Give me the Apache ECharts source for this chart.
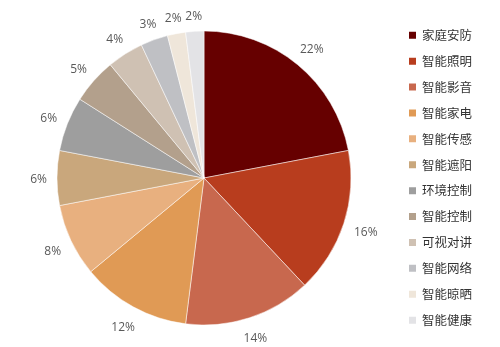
<!DOCTYPE html>
<html>
<head>
<meta charset="utf-8">
<script src="https://cdn.jsdelivr.net/npm/echarts@6/dist/echarts.min.js"></script>
<style>
  html, body { margin: 0; padding: 0; background: #fff; }
  #main { width: 500px; height: 347px; }
</style>
</head>
<body>
<div id="main"></div>
<script>
// 分类与占比
var categories = ['家庭安防', '智能照明', '智能影音', '智能家电', '智能传感', '智能遮阳',
                  '环境控制', '智能控制', '可视对讲', '智能网络', '智能晾晒', '智能健康'];
var shares = [22, 16, 14, 12, 8, 6, 6, 5, 4, 3, 2, 2];
var colors = ['#660000', '#b83d1e', '#c8684e', '#e09a55', '#e8b07f', '#c9a77c',
              '#9e9e9e', '#b3a08c', '#cfc1b3', '#bfc0c4', '#efe6da', '#e3e3e6'];

var pieData = [];
for (var i = 0; i < categories.length; i++) {
    pieData.push({ name: categories[i], value: shares[i] });
}

var cx = 204, cy = 178, r = 147;
var labelGap = 10;   // 标签框到饼边的距离

var myChart = echarts.init(document.getElementById('main'));
var option = {
    color: colors,
    animation: false,
    legend: {
        orient: 'vertical',
        left: 402,
        top: 24,
        itemWidth: 9,
        itemHeight: 9,
        itemGap: 13.4,
        icon: 'rect',
        textStyle: {
            fontFamily: 'Noto Sans CJK SC',
            fontSize: 12.5,
            color: '#333'
        },
        data: categories
    },
    series: [{
        type: 'pie',
        center: [cx, cy],
        radius: r,
        startAngle: 90,
        clockwise: true,
        avoidLabelOverlap: false,
        itemStyle: { borderColor: '#fff', borderWidth: 0.5 },
        label: {
            show: true,
            position: 'outside',
            formatter: '{c}%',
            fontFamily: 'Open Sans',
            fontSize: 12,
            color: '#595959'
        },
        // 引导线不画出来，只借用它的起点求角度
        labelLine: { show: true, length: 5, length2: 0, lineStyle: { opacity: 0 } },
        labelLayout: function (params) {
            var p = params.labelLinePoints;
            if (!p) return {};
            var dx = p[0][0] - cx, dy = p[0][1] - cy;
            var d = Math.sqrt(dx * dx + dy * dy);
            var ux = dx / d, uy = dy / d;
            var w = params.labelRect.width, h = params.labelRect.height;
            var ext = w / 2 * Math.abs(ux) + h / 2 * Math.abs(uy);
            var dist = r + labelGap + ext;
            return {
                x: cx + ux * dist,
                y: cy + uy * dist + 2,
                align: 'center',
                verticalAlign: 'middle'
            };
        },
        emphasis: { disabled: true },
        data: pieData
    }]
};
myChart.setOption(option);
</script>
</body>
</html>
